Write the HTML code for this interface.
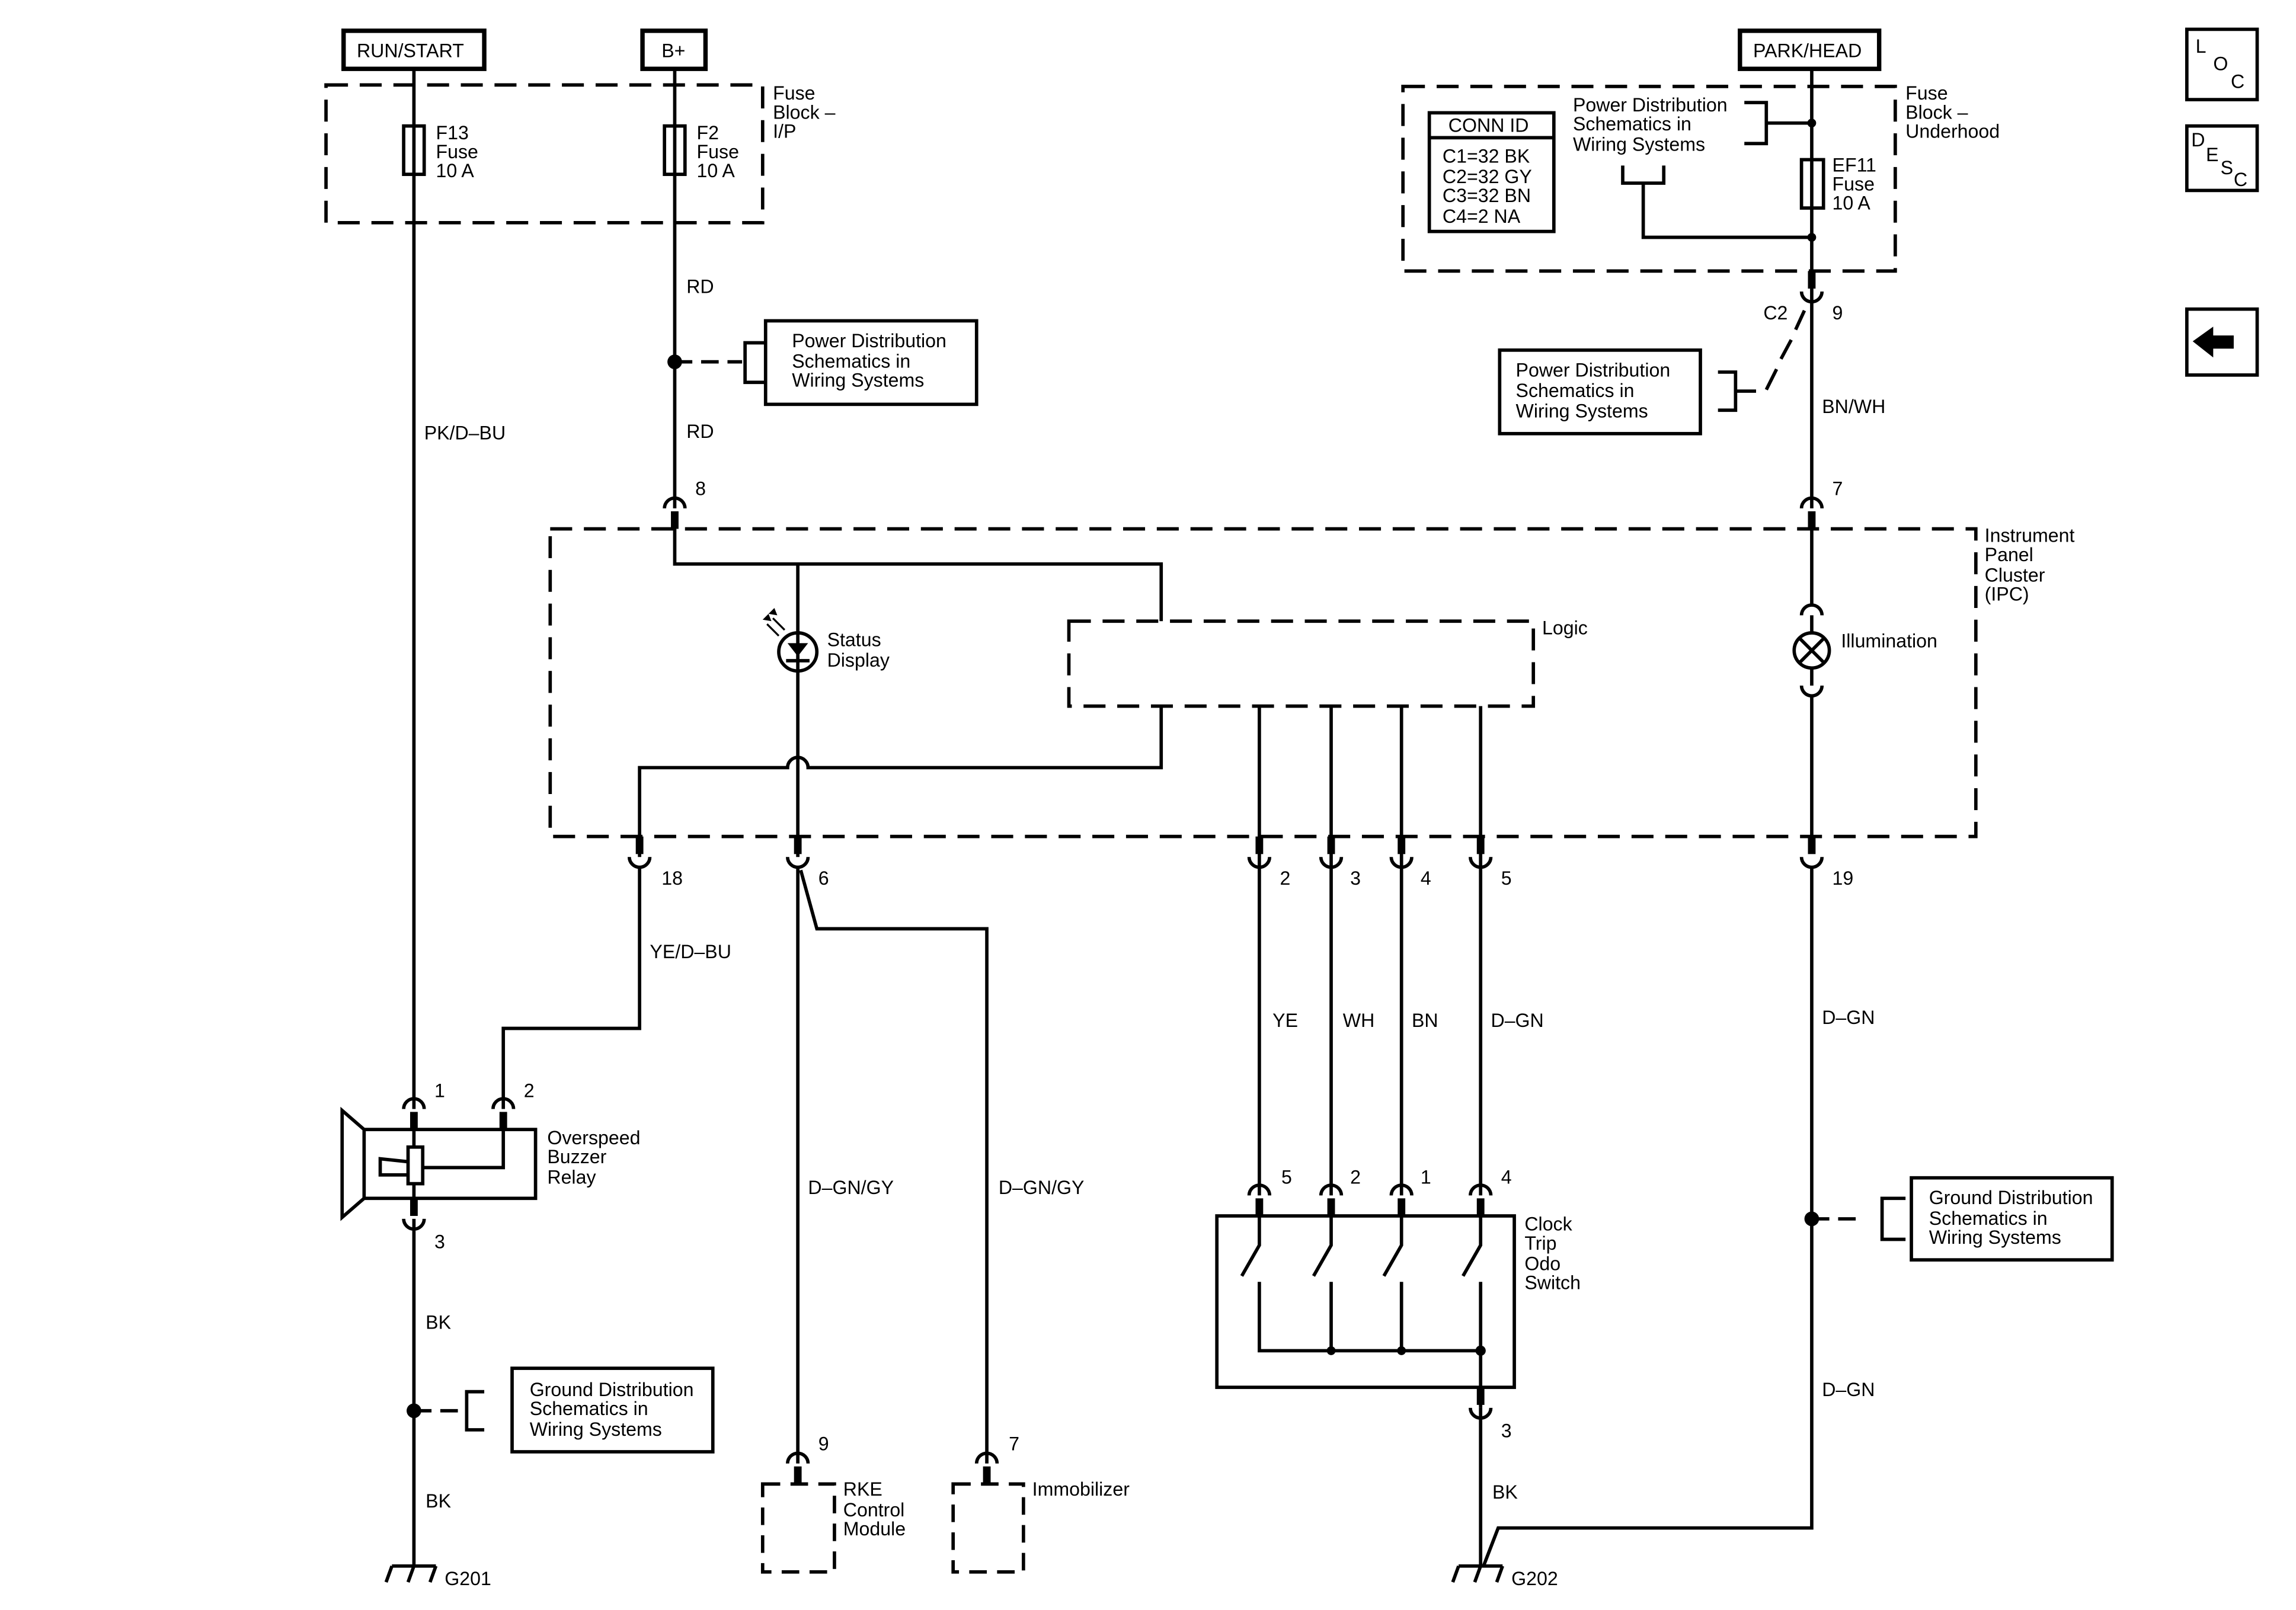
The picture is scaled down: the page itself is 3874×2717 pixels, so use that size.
<!DOCTYPE html>
<html><head><meta charset="utf-8"><style>
html,body{margin:0;padding:0;background:#fff;}
svg{display:block;}
text{font-family:"Liberation Sans",Arial,sans-serif;font-size:13px;fill:#000;}
</style></head><body>
<svg width="3874" height="2717" viewBox="0 0 1566 1099" xmlns="http://www.w3.org/2000/svg">
<defs>
<g id="pt"><path d="M-7,0 A7,7 0 0 1 7,0" fill="none" stroke="#000" stroke-width="2.3"/><rect x="-2.6" y="2" width="5.2" height="12" fill="#000"/></g>
<g id="pb"><path d="M-7,0 A7,7 0 0 0 7,0" fill="none" stroke="#000" stroke-width="2.3"/><rect x="-2.6" y="-14" width="5.2" height="12" fill="#000"/></g>
<g id="gnd"><path d="M-15,0 H15 M-15,0 L-19,11 M0,0 L-4,11 M15,0 L11,11" fill="none" stroke="#000" stroke-width="2.3"/></g>
</defs>
<g fill="none" stroke="#000" stroke-width="2.3">
<rect x="234" y="21" width="96" height="26" stroke-width="3"/>
<rect x="438" y="21" width="43" height="26" stroke-width="3"/>
<rect x="1187" y="21" width="95" height="26" stroke-width="3"/>
<rect x="222" y="58" width="298" height="94" stroke-dasharray="15 8"/>
<rect x="275" y="86" width="14" height="33"/>
<rect x="453" y="86" width="14" height="33"/>
<rect x="957" y="59" width="336" height="126" stroke-dasharray="15 8"/>
<rect x="1229" y="109" width="15" height="33"/>
<rect x="975" y="77" width="85" height="81"/>
<line x1="975" y1="94" x2="1060" y2="94"/>
<line x1="282" y1="47" x2="282" y2="757"/>
<line x1="460" y1="47" x2="460" y2="347"/>
<line x1="1236" y1="47" x2="1236" y2="199"/>
<path d="M1190,70 H1205 V98 H1190 M1205,84 H1236"/>
<path d="M1107,113 V125 H1135 V113 M1121,125 V162 H1236"/>
<path d="M460,247 H472 M478,247 H490 M496,247 H506"/>
<path d="M522,234 H508 V261 H522"/>
<rect x="522" y="219" width="144" height="57"/>
<rect x="1023" y="239" width="137" height="57"/>
<path d="M1172,254 H1184 V280 H1172 M1184,267 H1198"/>
<path d="M1205,266 L1212,252 M1215,245 L1222,232 M1225,225 L1231,212"/>
<line x1="1236" y1="199" x2="1236" y2="347"/>
<rect x="375" y="361" width="973" height="210" stroke-dasharray="15 8"/>
<path d="M460,361 V385 H792 V424"/>
<line x1="544" y1="385" x2="544" y2="585"/>
<circle cx="544" cy="445" r="13"/>
<path d="M436,585 V524 H537 A7,7 0 0 1 551,524 H792 V482"/>
<rect x="729" y="424" width="317" height="58" stroke-dasharray="15 8"/>
<line x1="859" y1="482" x2="859" y2="816"/>
<line x1="908" y1="482" x2="908" y2="816"/>
<line x1="956" y1="482" x2="956" y2="816"/>
<line x1="1010" y1="482" x2="1010" y2="816"/>
<line x1="1236" y1="361" x2="1236" y2="412"/>
<path d="M1229,420 A7,7 0 0 1 1243,420"/>
<line x1="1236" y1="420" x2="1236" y2="432"/>
<circle cx="1236" cy="444" r="12"/>
<path d="M1228,436 L1244,452 M1244,436 L1228,452"/>
<line x1="1236" y1="456" x2="1236" y2="468"/>
<path d="M1229,468 A7,7 0 0 0 1243,468"/>
<line x1="1236" y1="475" x2="1236" y2="571"/>
<path d="M436,592 V702 H343 V757"/>
<line x1="544" y1="592" x2="544" y2="999"/>
<path d="M546,594 L557,634 H673 V999"/>
<path d="M1236,592 V1043 H1022 L1012,1069"/>
<path d="M1236,832 H1248 M1254,832 H1266"/>
<path d="M1300,818 H1284 V846 H1300"/>
<rect x="1304" y="804" width="137" height="56"/>
<rect x="248" y="771" width="117" height="47"/>
<path d="M248,771 L233,758 V831 L248,818"/>
<line x1="282" y1="771" x2="282" y2="818"/>
<rect x="278" y="783" width="10" height="25" fill="#fff"/>
<path d="M278,793 L259,791 V802 H278"/>
<path d="M288,797 H343 V771"/>
<line x1="282" y1="832" x2="282" y2="1069"/>
<path d="M282,963 H294 M300,963 H312"/>
<path d="M330,950 H318 V976 H330"/>
<rect x="349" y="934" width="137" height="57"/>
<rect x="830" y="830" width="203" height="117"/>
<path d="M859,830 V850 L847,871 M859,875 V922 H1010 M908,830 V850 L896,871 M908,875 V922 M956,830 V850 L944,871 M956,875 V922 M1010,830 V850 L998,871 M1010,875 V961"/>
<line x1="1010" y1="961" x2="1010" y2="1069"/>
<rect x="520" y="1013" width="49" height="60" stroke-dasharray="12 7"/>
<rect x="650" y="1013" width="48" height="60" stroke-dasharray="12 7"/>
<rect x="1492" y="20" width="48" height="48"/>
<rect x="1492" y="86" width="48" height="44"/>
<rect x="1492" y="211" width="48" height="45"/>
</g>
<path d="M537,439 H551 L544,448 Z" fill="#000"/>
<line x1="536" y1="451" x2="552" y2="451" stroke="#000" stroke-width="2.3"/>
<path d="M531,434 L523,426 M535,430 L527,422" stroke="#000" stroke-width="1.3"/>
<path d="M520,423 l6,1 -2,-5z M524,419 l6,1 -2,-5z" fill="#000"/>
<g fill="#000">
<circle cx="460" cy="247" r="5"/><circle cx="282" cy="963" r="5"/><circle cx="1236" cy="832" r="5"/>
<circle cx="1236" cy="84" r="3"/><circle cx="1236" cy="162" r="3"/>
<circle cx="908" cy="922" r="3"/><circle cx="956" cy="922" r="3"/><circle cx="1010" cy="922" r="3.5"/>
<path d="M1496,233 L1510,223 V229 H1524 V238 H1510 V244 Z"/>
</g>
<use href="#pt" x="460" y="347"/><use href="#pt" x="1236" y="347"/>
<use href="#pb" x="1236" y="199"/>
<use href="#pb" x="436" y="585"/><use href="#pb" x="544" y="585"/><use href="#pb" x="859" y="585"/><use href="#pb" x="908" y="585"/><use href="#pb" x="956" y="585"/><use href="#pb" x="1010" y="585"/><use href="#pb" x="1236" y="585"/>
<use href="#pt" x="282" y="757"/><use href="#pt" x="343" y="757"/>
<use href="#pb" x="282" y="832"/>
<use href="#pt" x="859" y="816"/><use href="#pt" x="908" y="816"/><use href="#pt" x="956" y="816"/><use href="#pt" x="1010" y="816"/>
<use href="#pb" x="1010" y="961"/>
<use href="#pt" x="544" y="999"/><use href="#pt" x="673" y="999"/>
<use href="#gnd" x="282" y="1069"/><use href="#gnd" x="1010" y="1069"/>
<text x="243" y="39">RUN/START</text>
<text x="451" y="39">B+</text>
<text x="1196" y="39">PARK/HEAD</text>
<text x="297" y="95">F13</text><text x="297" y="108">Fuse</text><text x="297" y="121">10 A</text>
<text x="475" y="95">F2</text><text x="475" y="108">Fuse</text><text x="475" y="121">10 A</text>
<text x="527" y="68">Fuse</text><text x="527" y="81">Block –</text><text x="527" y="94">I/P</text>
<text x="1300" y="68">Fuse</text><text x="1300" y="81">Block –</text><text x="1300" y="94">Underhood</text>
<text x="988" y="90">CONN ID</text>
<text x="984" y="111">C1=32 BK</text><text x="984" y="125">C2=32 GY</text><text x="984" y="138">C3=32 BN</text><text x="984" y="152">C4=2 NA</text>
<text x="1073" y="76">Power Distribution</text><text x="1073" y="89">Schematics in</text><text x="1073" y="103">Wiring Systems</text>
<text x="1250" y="117">EF11</text><text x="1250" y="130">Fuse</text><text x="1250" y="143">10 A</text>
<text x="1203" y="218">C2</text><text x="1250" y="218">9</text>
<text x="1034" y="257">Power Distribution</text><text x="1034" y="271">Schematics in</text><text x="1034" y="285">Wiring Systems</text>
<text x="1243" y="282">BN/WH</text>
<text x="1250" y="338">7</text>
<text x="540" y="237">Power Distribution</text><text x="540" y="251">Schematics in</text><text x="540" y="264">Wiring Systems</text>
<text x="468" y="200">RD</text><text x="468" y="299">RD</text>
<text x="289" y="300">PK/D–BU</text>
<text x="474" y="338">8</text>
<text x="1354" y="370">Instrument</text><text x="1354" y="383">Panel</text><text x="1354" y="397">Cluster</text><text x="1354" y="410">(IPC)</text>
<text x="564" y="441">Status</text><text x="564" y="455">Display</text>
<text x="1052" y="433">Logic</text>
<text x="1256" y="442">Illumination</text>
<text x="451" y="604">18</text><text x="558" y="604">6</text><text x="873" y="604">2</text><text x="921" y="604">3</text><text x="969" y="604">4</text><text x="1024" y="604">5</text><text x="1250" y="604">19</text>
<text x="443" y="654">YE/D–BU</text>
<text x="868" y="701">YE</text><text x="916" y="701">WH</text><text x="963" y="701">BN</text><text x="1017" y="701">D–GN</text>
<text x="1243" y="699">D–GN</text>
<text x="296" y="749">1</text><text x="357" y="749">2</text>
<text x="373" y="781">Overspeed</text><text x="373" y="794">Buzzer</text><text x="373" y="808">Relay</text>
<text x="296" y="852">3</text>
<text x="551" y="815">D–GN/GY</text><text x="681" y="815">D–GN/GY</text>
<text x="874" y="808">5</text><text x="921" y="808">2</text><text x="969" y="808">1</text><text x="1024" y="808">4</text>
<text x="1040" y="840">Clock</text><text x="1040" y="853">Trip</text><text x="1040" y="867">Odo</text><text x="1040" y="880">Switch</text>
<text x="1316" y="822">Ground Distribution</text><text x="1316" y="836">Schematics in</text><text x="1316" y="849">Wiring Systems</text>
<text x="1243" y="953">D–GN</text>
<text x="290" y="907">BK</text>
<text x="361" y="953">Ground Distribution</text><text x="361" y="966">Schematics in</text><text x="361" y="980">Wiring Systems</text>
<text x="290" y="1029">BK</text>
<text x="1024" y="981">3</text>
<text x="1018" y="1023">BK</text>
<text x="558" y="990">9</text><text x="688" y="990">7</text>
<text x="575" y="1021">RKE</text><text x="575" y="1035">Control</text><text x="575" y="1048">Module</text>
<text x="704" y="1021">Immobilizer</text>
<text x="303" y="1082">G201</text><text x="1031" y="1082">G202</text>
<text x="1498" y="36" style="font-size:13px">L</text><text x="1510" y="48" style="font-size:13px">O</text><text x="1522" y="60" style="font-size:13px">C</text>
<text x="1495" y="100" style="font-size:13px">D</text><text x="1505" y="110" style="font-size:13px">E</text><text x="1515" y="119" style="font-size:13px">S</text><text x="1524" y="127" style="font-size:13px">C</text>
</svg>
</body></html>
